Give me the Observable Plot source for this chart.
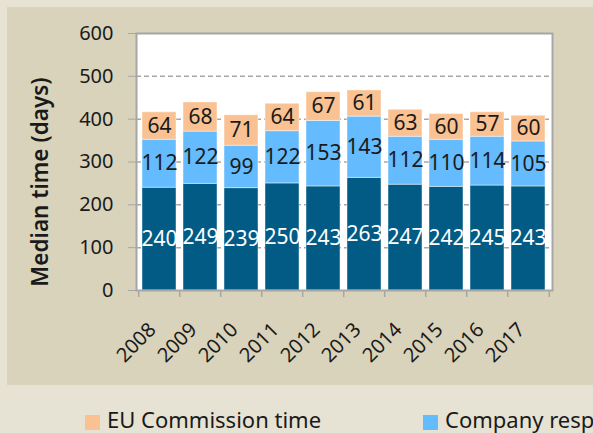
<!DOCTYPE html>
<html><head><meta charset="utf-8">
<script src="https://cdn.jsdelivr.net/npm/d3@7"></script>
<script src="https://cdn.jsdelivr.net/npm/@observablehq/plot@0.6"></script>
<style>
html,body{margin:0;padding:0;width:593px;height:433px;overflow:hidden;background:#e6e2d4;font-family:"Noto Sans",sans-serif;position:relative}
#panel{position:absolute;left:7px;top:7px;width:600px;height:378px;background:#d9d3bb;}
#chart{position:absolute;left:0;top:0;}
#legend{position:absolute;left:0;top:406px;width:593px;height:27px;font-size:22px;line-height:27px;color:#1a1a1a;white-space:nowrap;overflow:hidden}
.item{position:absolute;top:0;display:flex;align-items:center;height:27px}
.sw{width:15px;height:15px;margin-right:7px;margin-top:6px}
</style></head>
<body>
<div id="panel"></div>
<div id="chart"></div>
<div id="legend"></div>
<script>
const years = ["2008","2009","2010","2011","2012","2013","2014","2015","2016","2017"];
const seriesNames = ["Merger review time", "Company response time", "EU Commission time"];
const reviewTime = [240,249,239,250,243,263,247,242,245,243];
const companyTime = [112,122,99,122,153,143,112,110,114,105];
const commissionTime = [64,68,71,64,67,61,63,60,57,60];
const yTicks = [0,100,200,300,400,500,600];
const gridValues = [100,200,300,400,500];
const seriesColors = ["#025b84", "#64bbfe", "#fac192"];
const labelColors = ["#ffffff", "#1a1a1a", "#1a1a1a"];

const seriesValues = [reviewTime, companyTime, commissionTime];
const data = [];
years.forEach((y, i) => {
  seriesValues.forEach((vals, s) => {
    data.push({year: y, series: seriesNames[s], s, value: vals[i]});
  });
});

const step = (552 - 136) / years.length;

const chart = Plot.plot({
  width: 593,
  height: 385,
  marginLeft: 136,
  marginRight: 41,
  marginTop: 33,
  marginBottom: 95,
  style: {background: "transparent", fontFamily: "Noto Sans", fontSize: "20px", color: "#1a1a1a", overflow: "visible"},
  x: {domain: years, paddingInner: 0.17, paddingOuter: 0.085},
  y: {domain: [0, 600]},
  color: {type: "identity"},
  marks: [
    Plot.frame({fill: "white", stroke: null}),
    Plot.ruleY(gridValues, {stroke: "#a6a6a6", strokeWidth: 1.5, strokeDasharray: "5,3"}),
    Plot.barY(data, Plot.stackY({x: "year", y: "value", z: "series", fill: d => seriesColors[d.s], stroke: "#ffffff", strokeOpacity: 0.45, strokeWidth: 1})),
    Plot.text(data, Plot.stackY({x: "year", y: "value", z: "series", text: d => String(d.value), fill: d => labelColors[d.s], fontSize: 21})),
    Plot.frame({stroke: "#a6a6a6", strokeWidth: 2}),
    Plot.ruleX(years, {x: d => d, y1: 0, y2: 0, insetBottom: -7, dx: -step / 2, stroke: "#a6a6a6", strokeWidth: 1.5}),
    Plot.ruleX(years.slice(-1), {x: d => d, y1: 0, y2: 0, insetBottom: -7, dx: step / 2, stroke: "#a6a6a6", strokeWidth: 1.5}),
    Plot.axisY({ticks: yTicks, tickSize: 8, tickPadding: 15, tickFormat: d => String(d), fontSize: 20, stroke: "#a6a6a6", fill: "#1a1a1a", label: null}),
    Plot.axisX({tickSize: 0, tickRotate: -45, tickPadding: 36, dx: -7, fontSize: 20, fill: "#1a1a1a", label: null}),
    Plot.text(["Median time (days)"], {frameAnchor: "left", textAnchor: "middle", dx: -96, dy: 20, rotate: -90, fontSize: 22.5, fontWeight: 600, fill: "#1a1a1a"})
  ]
});
document.getElementById("chart").appendChild(chart);

const legendItems = [
  {name: seriesNames[2], color: seriesColors[2], left: 85},
  {name: seriesNames[1], color: seriesColors[1], left: 423}
];
const lg = document.getElementById("legend");
legendItems.forEach(it => {
  const d = document.createElement("div");
  d.className = "item";
  d.style.left = it.left + "px";
  const sw = document.createElement("div");
  sw.className = "sw";
  sw.style.background = it.color;
  const t = document.createElement("span");
  t.textContent = it.name;
  d.appendChild(sw); d.appendChild(t);
  lg.appendChild(d);
});
</script>
</body></html>
